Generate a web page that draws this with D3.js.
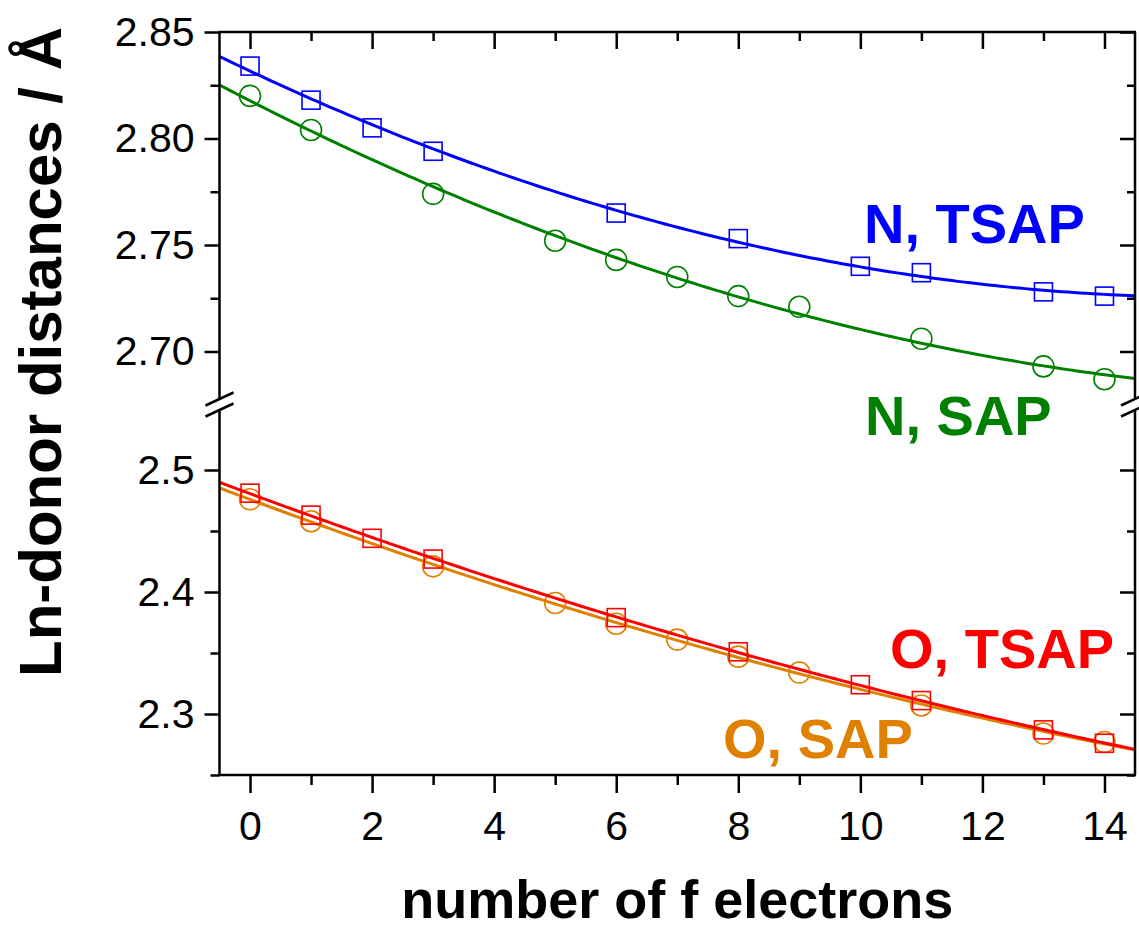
<!DOCTYPE html>
<html>
<head>
<meta charset="utf-8">
<script src="https://cdn.jsdelivr.net/npm/d3@7"></script>
<style>
  body { margin: 0; background: #fff; }
  svg text { font-family: "Liberation Sans", Arial, sans-serif; }
</style>
</head>
<body>
<svg id="chart" width="1139" height="930"></svg>
<script>
// number of f electrons where each structure type was computed
const xTSAP = [0, 1, 2, 3, 6, 8, 10, 11, 13, 14];
const xSAP = [0, 1, 3, 5, 6, 7, 8, 9, 11, 13, 14];

// Ln-donor distances (Å)
const nTSAP = [2.834, 2.818, 2.805, 2.794, 2.765, 2.753, 2.740, 2.737, 2.728, 2.726];
const nSAP = [2.820, 2.804, 2.774, 2.752, 2.743, 2.735, 2.726, 2.721, 2.706, 2.693, 2.687];
const oTSAP = [2.481, 2.463, 2.444, 2.427, 2.379, 2.351, 2.324, 2.311, 2.287, 2.276];
const oSAP = [2.476, 2.458, 2.421, 2.391, 2.374, 2.361, 2.347, 2.334, 2.307, 2.284, 2.277];

// ticks
const xMajor = [0, 2, 4, 6, 8, 10, 12, 14];
const xMinor = [1, 3, 5, 7, 9, 11, 13];
const yUpMajor = [2.70, 2.75, 2.80, 2.85];
const yUpMinor = [2.725, 2.775, 2.825];
const yLowMajor = [2.3, 2.4, 2.5];
const yLowMinor = [2.25, 2.35, 2.45];

const plotLeft = 219.5, plotRight = 1135, plotTop = 32, plotBottom = 775;
const breakUp = 399, breakLow = 410;

const svg = d3.select('#chart');

const x = d3.scaleLinear().domain([-0.5, 14.5]).range([plotLeft, plotRight]);
const yUp = d3.scaleLinear().domain([2.675, 2.85]).range([404.75, plotTop]);
const yLow = d3.scaleLinear().domain([2.25, 2.55]).range([plotBottom, 409]);

const series = [
    { xs: xSAP, ys: nSAP, y: yUp, color: '#008000', marker: 'circle' },
    { xs: xTSAP, ys: nTSAP, y: yUp, color: '#0000FF', marker: 'square' },
    { xs: xSAP, ys: oSAP, y: yLow, color: '#E08000', marker: 'circle' },
    { xs: xTSAP, ys: oTSAP, y: yLow, color: '#FF0000', marker: 'square' }
];

// least-squares quadratic, same as the fitted curves in the figure
function quadFit(xs, ys) {
    const s = [0, 0, 0, 0, 0], t = [0, 0, 0];
    xs.forEach((xv, i) => {
        for (let k = 0; k < 5; k++) s[k] += Math.pow(xv, k);
        for (let k = 0; k < 3; k++) t[k] += ys[i] * Math.pow(xv, k);
    });
    const m = [[s[0], s[1], s[2], t[0]], [s[1], s[2], s[3], t[1]], [s[2], s[3], s[4], t[2]]];
    for (let i = 0; i < 3; i++) {
        for (let j = i + 1; j < 3; j++) {
            const f = m[j][i] / m[i][i];
            for (let k = i; k < 4; k++) m[j][k] -= f * m[i][k];
        }
    }
    const c = [0, 0, 0];
    for (let i = 2; i >= 0; i--) {
        let v = m[i][3];
        for (let k = i + 1; k < 3; k++) v -= m[i][k] * c[k];
        c[i] = v / m[i][i];
    }
    return xv => c[0] + c[1] * xv + c[2] * xv * xv;
}

const fitX = d3.range(-0.5, 14.5001, 0.1);

series.forEach(s => {
    const pts = s.xs.map((xv, i) => [xv, s.ys[i]]);
    const g = svg.append('g');
    if (s.marker === 'square') {
        g.selectAll('rect').data(pts).enter().append('rect')
            .attr('x', d => x(d[0]) - 9)
            .attr('y', d => s.y(d[1]) - 9)
            .attr('width', 18).attr('height', 18)
            .attr('fill', 'none').attr('stroke', s.color).attr('stroke-width', 1.6);
    } else {
        g.selectAll('circle').data(pts).enter().append('circle')
            .attr('cx', d => x(d[0]))
            .attr('cy', d => s.y(d[1]))
            .attr('r', 10.5)
            .attr('fill', 'none').attr('stroke', s.color).attr('stroke-width', 1.6);
    }
    const fit = quadFit(s.xs, s.ys);
    const line = d3.line().x(d => x(d)).y(d => s.y(fit(d)));
    svg.append('path').datum(fitX)
        .attr('d', line)
        .attr('fill', 'none').attr('stroke', s.color).attr('stroke-width', 3);
});

// frame
const axisColor = '#000';
function styleAxis(g) {
    g.select('.domain').remove();
    g.selectAll('.tick line').attr('stroke', axisColor).attr('stroke-width', 2.5);
    g.selectAll('.tick text').attr('fill', '#000').style('font-size', '41px');
}

// bottom axis
svg.append('g').attr('transform', `translate(0,${plotBottom})`)
    .call(d3.axisBottom(x).tickValues(xMajor).tickSize(18).tickPadding(18).tickFormat(d3.format('d')))
    .call(styleAxis);
svg.append('g').attr('transform', `translate(0,${plotBottom})`)
    .call(d3.axisBottom(x).tickValues(xMinor).tickSize(10).tickFormat(''))
    .call(styleAxis);
// top axis (inward ticks)
svg.append('g').attr('transform', `translate(0,${plotTop})`)
    .call(d3.axisBottom(x).tickValues(xMajor).tickSize(17).tickFormat(''))
    .call(styleAxis);
svg.append('g').attr('transform', `translate(0,${plotTop})`)
    .call(d3.axisBottom(x).tickValues(xMinor).tickSize(9).tickFormat(''))
    .call(styleAxis);

// left and right axes, two segments each
[[yUp, yUpMajor, yUpMinor, d3.format('.2f')], [yLow, yLowMajor, yLowMinor, d3.format('.1f')]].forEach(([sc, maj, min, fmt]) => {
    svg.append('g').attr('transform', `translate(${plotLeft},0)`)
        .call(d3.axisLeft(sc).tickValues(maj).tickSize(15).tickPadding(10).tickFormat(fmt))
        .call(styleAxis);
    svg.append('g').attr('transform', `translate(${plotLeft},0)`)
        .call(d3.axisLeft(sc).tickValues(min).tickSize(9).tickFormat(''))
        .call(styleAxis);
    svg.append('g').attr('transform', `translate(${plotRight},0)`)
        .call(d3.axisLeft(sc).tickValues(maj).tickSize(15).tickFormat(''))
        .call(styleAxis);
    svg.append('g').attr('transform', `translate(${plotRight},0)`)
        .call(d3.axisLeft(sc).tickValues(min).tickSize(8).tickFormat(''))
        .call(styleAxis);
});

const frame = svg.append('g').attr('stroke', axisColor).attr('stroke-width', 2.5).attr('fill', 'none');
frame.append('line').attr('x1', plotLeft - 1).attr('x2', plotRight + 1).attr('y1', plotTop).attr('y2', plotTop);
frame.append('line').attr('x1', plotLeft - 1).attr('x2', plotRight + 1).attr('y1', plotBottom).attr('y2', plotBottom);
[plotLeft, plotRight].forEach(ax => {
    frame.append('line').attr('x1', ax).attr('x2', ax).attr('y1', plotTop).attr('y2', breakUp);
    frame.append('line').attr('x1', ax).attr('x2', ax).attr('y1', breakLow).attr('y2', plotBottom);
    // break marks
    frame.append('line').attr('x1', ax - 14).attr('x2', ax + 14).attr('y1', breakUp + 6.5).attr('y2', breakUp - 6.5);
    frame.append('line').attr('x1', ax - 14).attr('x2', ax + 14).attr('y1', breakLow + 6.5).attr('y2', breakLow - 6.5);
});

// series labels
const labels = [
    { text: 'N, TSAP', color: '#0000FF', x: 864, y: 243 },
    { text: 'N, SAP', color: '#008000', x: 865, y: 435 },
    { text: 'O, TSAP', color: '#FF0000', x: 890, y: 668 },
    { text: 'O, SAP', color: '#E08000', x: 723, y: 758 }
];
svg.selectAll('.series-label').data(labels).enter().append('text')
    .attr('class', 'series-label')
    .attr('x', d => d.x).attr('y', d => d.y)
    .attr('fill', d => d.color)
    .style('font-size', '56px').style('font-weight', 'bold')
    .text(d => d.text);

// axis titles
svg.append('text')
    .attr('x', (plotLeft + plotRight) / 2).attr('y', 918)
    .attr('text-anchor', 'middle')
    .style('font-size', '54px').style('font-weight', 'bold')
    .text('number of f electrons');

svg.append('text')
    .attr('transform', 'translate(61,352) rotate(-90)')
    .attr('text-anchor', 'middle')
    .style('font-size', '60px').style('font-weight', 'bold')
    .text('Ln-donor distances / Å');
</script>
</body>
</html>
